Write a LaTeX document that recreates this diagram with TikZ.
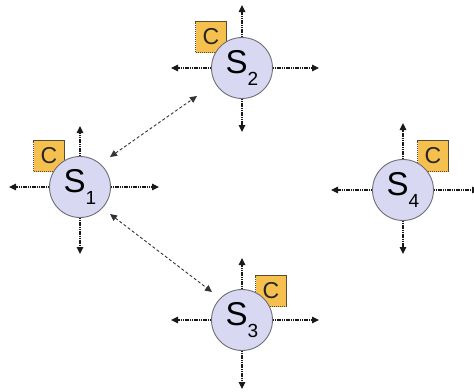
\documentclass[tikz,border=0pt]{standalone}
\usepackage{fontspec}
\setmainfont{Liberation Sans}
\usetikzlibrary{arrows.meta}
\definecolor{stationfill}{HTML}{D8D8F2}
\definecolor{stationedge}{HTML}{6E6E78}
\definecolor{cfill}{HTML}{F6C04E}
\definecolor{cedge}{HTML}{5A4A30}
\tikzset{
  station/.style={circle, minimum size=61pt, inner sep=0pt, fill=stationfill,
    draw=stationedge, line width=0.9pt, font=\fontsize{33}{33}\selectfont},
  cbox/.style={rectangle, minimum width=31pt, minimum height=31pt, inner sep=0pt,
    fill=cfill, draw=cedge, dash pattern=on 1.2pt off 0.8pt, line width=0.7pt,
    font=\fontsize{23}{23}\selectfont},
  dirarrow/.style={dash pattern=on 1.2pt off 0.6pt, line width=1.1pt, black!90,
    -{Triangle[length=7pt,width=6.5pt]}},
  link/.style={dash pattern=on 3pt off 2.2pt, line width=0.9pt, black!80,
    {Triangle[length=7pt,width=6.5pt]}-{Triangle[length=7pt,width=6.5pt]}},
}
\newcommand{\stlabel}[1]{S\raisebox{-0.35em}{\fontsize{19}{19}\selectfont #1}}
\begin{document}
\begin{tikzpicture}[x=1pt,y=-1pt]
\useasboundingbox (0,0) rectangle (474,391);

% C boxes (drawn first so the stations sit in front of them)
\node[cbox] (c1) at (49,156) {\textcolor{black!85}{C}};
\node[cbox] (c2) at (211,37) {\textcolor{black!85}{C}};
\node[cbox] (c3) at (271,291) {\textcolor{black!85}{C}};
\node[cbox] (c4) at (433,156) {\textcolor{black!85}{C}};

% stations
\node[station] (s1) at (80,187) {\stlabel{1}};
\node[station] (s2) at (242,68) {\stlabel{2}};
\node[station] (s3) at (242,320) {\stlabel{3}};
\node[station] (s4) at (403,190) {\stlabel{4}};

% outgoing directions of each station
\coordinate (s1n) at (80,126);  \coordinate (s1s) at (80,254);
\coordinate (s1w) at (9,187);   \coordinate (s1e) at (159,187);
\coordinate (s2n) at (242,5);   \coordinate (s2s) at (242,132);
\coordinate (s2w) at (171,68);  \coordinate (s2e) at (319,68);
\coordinate (s3n) at (242,258); \coordinate (s3s) at (242,389);
\coordinate (s3w) at (171,320); \coordinate (s3e) at (319,320);
\coordinate (s4n) at (403,123); \coordinate (s4s) at (403,254);
\coordinate (s4w) at (331,190); \coordinate (s4e) at (479,190);

\foreach \s in {s1,s2,s3,s4}{
  \draw[dirarrow] (\s.north) -- (\s n);
  \draw[dirarrow] (\s.south) -- (\s s);
  \draw[dirarrow] (\s.west) -- (\s w);
  \draw[dirarrow] (\s.east) -- (\s e);
}

% links between stations
\coordinate (l12a) at (110,157); \coordinate (l12b) at (197,96);
\coordinate (l13a) at (110,214); \coordinate (l13b) at (212,292);
\draw[link] (l12a) -- (l12b);
\draw[link] (l13a) -- (l13b);
\end{tikzpicture}
\end{document}
